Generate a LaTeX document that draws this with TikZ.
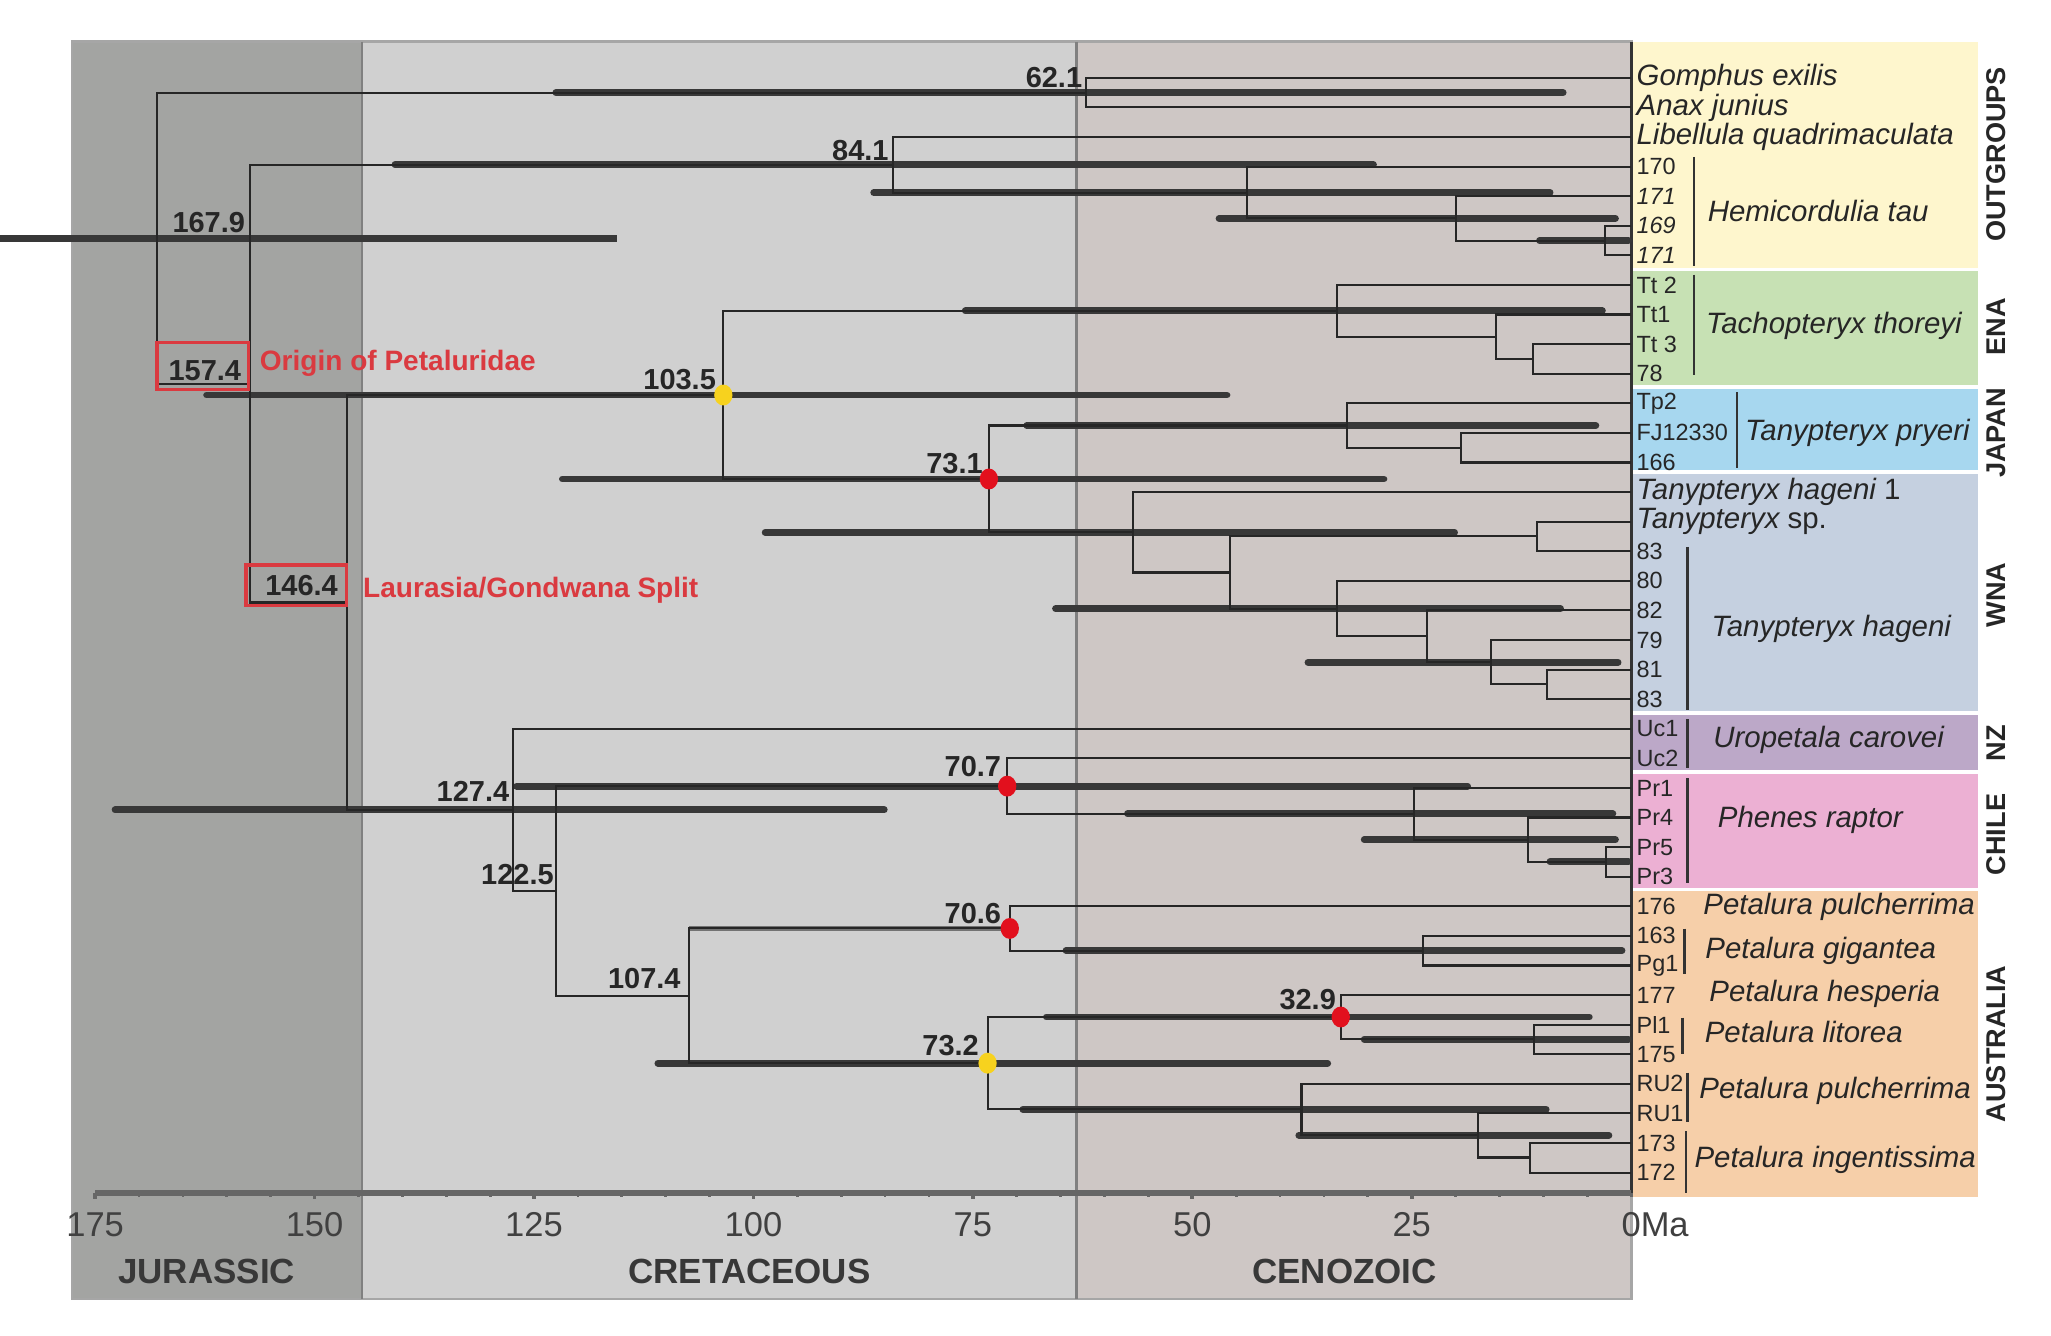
\documentclass[tikz,border=0pt]{standalone}
\usepackage{fontspec}
\setmainfont{Liberation Sans}
\definecolor{jur}{HTML}{A3A4A2}
\definecolor{cre}{HTML}{D0D0D0}
\definecolor{cen}{HTML}{CEC7C5}
\definecolor{cyel}{HTML}{FEF6CD}
\definecolor{cgrn}{HTML}{C7E1B4}
\definecolor{cblu}{HTML}{A7D7EF}
\definecolor{cwna}{HTML}{C5D0E0}
\definecolor{cnz}{HTML}{BCA8C8}
\definecolor{cchl}{HTML}{ECB0D3}
\definecolor{caus}{HTML}{F6CFA9}
\definecolor{redlab}{HTML}{DA3A40}
\definecolor{dotred}{HTML}{E2101D}
\definecolor{dotyel}{HTML}{F7D21E}
\newcommand\clade[3]{\draw[br] (#2) -| (#1) |- (#3);}
\newcommand\hpdbar[3]{\draw[hpd] (#2,0 |- #1) -- (#3,0 |- #1);}
\tikzset{
  br/.style={line width=0.45pt, black!85},
  hpd/.style={line width=1.5pt, black!78, line cap=round},
  lf/.style={font=\fontsize{5.1}{6}\selectfont, anchor=west, inner sep=0, text=black!85},
  lfi/.style={font=\fontsize{6.4}{7}\selectfont\itshape, anchor=west, inner sep=0, text=black!85},
  grp/.style={font=\fontsize{6.4}{7}\selectfont\itshape, inner sep=0, text=black!85},
  age/.style={font=\fontsize{6.3}{7}\selectfont\bfseries, anchor=base east, inner sep=0, text=black!85},
  redlbl/.style={font=\fontsize{6.1}{7}\selectfont\bfseries, anchor=west, inner sep=0, text=redlab},
  redbox/.style={draw=redlab, line width=0.7pt},
  region/.style={font=\fontsize{5.9}{7}\selectfont\bfseries, rotate=90, inner sep=0, text=black!85},
  gbar/.style={line width=0.6pt, black!80},
  axl/.style={font=\fontsize{7.5}{8}\selectfont, inner sep=0, text=black!75},
  per/.style={font=\fontsize{7.6}{8}\selectfont\bfseries, inner sep=0, text=black!78},
}
\begin{document}
\begin{tikzpicture}[x=0.1mm,y=-0.1mm]
\useasboundingbox[fill=white] (0,0) rectangle (1568,1021);
% time panels
\fill[jur] (55,32) rectangle (277,993);
\fill[cre] (277,32) rectangle (823,993);
\fill[cen] (823,32) rectangle (1247,993);
\draw[black!35, line width=0.6pt] (55,32) rectangle (1247,993);
\draw[black!50, line width=0.5pt] (277,32) -- (277,993);
\draw[black!50, line width=0.5pt] (823,32) -- (823,993);
% region boxes
\fill[cyel] (1247,32) rectangle (1512,206);
\fill[cgrn] (1247,206) rectangle (1512,296);
\fill[cblu] (1247,296) rectangle (1512,361);
\fill[cwna] (1247,361) rectangle (1512,545);
\fill[cnz] (1247,545) rectangle (1512,590);
\fill[cchl] (1247,590) rectangle (1512,680);
\fill[caus] (1247,680) rectangle (1512,915);
\foreach \yy in {206,296,361,545,590,680} \draw[white, line width=0.8pt] (1248,\yy) -- (1512,\yy);
\draw[black!80, line width=0.6pt] (1247,32) -- (1247,912);
% leaves
\foreach \i in {1,...,38} \coordinate (L\i) at (1247,{59.5+(\i-1)*22.62});
% internal nodes
\coordinate (nGA) at (830,70.8);
\coordinate (nHE4) at (1227,183.9);
\coordinate (nHE3) at (1113,167.0);
\coordinate (nHE2) at (953,147.2);
\coordinate (nLH) at (683,126.0);
\coordinate (nT3) at (1172,274.4);
\coordinate (nT2) at (1144,257.5);
\coordinate (nT1) at (1022,237.7);
\coordinate (nJ2) at (1117,342.2);
\coordinate (nJ1) at (1030,325.3);
\coordinate (nW6) at (1183,523.2);
\coordinate (nW5) at (1140,506.3);
\coordinate (nW4) at (1091,486.5);
\coordinate (nW3) at (1022,465.3);
\coordinate (nW2) at (1175,410.1);
\coordinate (nW1b) at (940,437.7);
\coordinate (nW1) at (866,407.0);
\coordinate (n731) at (756,366.2);
\coordinate (n1035) at (553,302.0);
\coordinate (nPh3) at (1228,658.9);
\coordinate (nPh2) at (1168,641.9);
\coordinate (nPh1) at (1081,622.2);
\coordinate (n707) at (770,601.0);
\coordinate (nPg) at (1088,726.7);
\coordinate (n706) at (772,709.8);
\coordinate (nPl) at (1173,794.5);
\coordinate (n329) at (1025,777.5);
\coordinate (nI) at (1170,884.9);
\coordinate (nR2) at (1130,867.9);
\coordinate (nR1) at (995,848.1);
\coordinate (n732) at (755,812.8);
\coordinate (n1074) at (527,761.3);
\coordinate (n1225) at (425,681.1);
\coordinate (n1274) at (392,619.2);
\coordinate (n1464) at (265,460.6);
\coordinate (n1574) at (191,293.3);
\coordinate (root) at (120,182.0);
% HPD bars
\draw[hpd, line cap=butt] (0,0 |- root) -- (472,0 |- root);
\hpdbar{nGA}{425}{1195}
\hpdbar{nLH}{302}{1050}
\hpdbar{nHE2}{668}{1185}
\hpdbar{nHE3}{932}{1235}
\hpdbar{nHE4}{1177}{1245}
\hpdbar{n1035}{158}{938}
\hpdbar{nT1}{738}{1225}
\hpdbar{n731}{430}{1058}
\hpdbar{nJ1}{785}{1220}
\hpdbar{nW1}{585}{1112}
\hpdbar{nW3}{807}{1193}
\hpdbar{nW5}{1000}{1237}
\hpdbar{n707}{395}{1122}
\hpdbar{nPh1}{862}{1233}
\hpdbar{nPh2}{1043}{1235}
\hpdbar{nPh3}{1185}{1245}
\hpdbar{nPg}{815}{1240}
\hpdbar{n732}{503}{1015}
\hpdbar{n329}{800}{1215}
\hpdbar{nPl}{1043}{1245}
\hpdbar{nR1}{782}{1182}
\hpdbar{nR2}{993}{1230}
\hpdbar{n1274}{88}{676}
\draw[line width=1pt, black!55] (527,0 |- n706) -- (n706);
% branches
\clade{nGA}{L1}{L2}
\clade{nHE4}{L6}{L7}
\clade{nHE3}{L5}{nHE4}
\clade{nHE2}{L4}{nHE3}
\clade{nLH}{L3}{nHE2}
\clade{nT3}{L10}{L11}
\clade{nT2}{L9}{nT3}
\clade{nT1}{L8}{nT2}
\clade{nJ2}{L13}{L14}
\clade{nJ1}{L12}{nJ2}
\clade{nW6}{L21}{L22}
\clade{nW5}{L20}{nW6}
\clade{nW4}{L19}{nW5}
\clade{nW3}{L18}{nW4}
\clade{nW2}{L16}{L17}
\clade{nW1b}{nW2}{nW3}
\clade{nW1}{L15}{nW1b}
\clade{n731}{nJ1}{nW1}
\clade{n1035}{nT1}{n731}
\clade{nPh3}{L27}{L28}
\clade{nPh2}{L26}{nPh3}
\clade{nPh1}{L25}{nPh2}
\clade{n707}{L24}{nPh1}
\clade{nPg}{L30}{L31}
\clade{n706}{L29}{nPg}
\clade{nPl}{L33}{L34}
\clade{n329}{L32}{nPl}
\clade{nI}{L37}{L38}
\clade{nR2}{L36}{nI}
\clade{nR1}{L35}{nR2}
\clade{n732}{n329}{nR1}
\clade{n1074}{n706}{n732}
\clade{n1225}{n707}{n1074}
\clade{n1274}{L23}{n1225}
\clade{n1464}{n1035}{n1274}
\clade{n1574}{nLH}{n1464}
\clade{root}{nGA}{n1574}
% dots
\fill[dotyel] (n1035) ellipse (0.7mm and 0.8mm);
\fill[dotyel] (n732) ellipse (0.7mm and 0.8mm);
\fill[dotred] (n731) ellipse (0.7mm and 0.8mm);
\fill[dotred] (n707) ellipse (0.7mm and 0.8mm);
\fill[dotred] (n706) ellipse (0.7mm and 0.8mm);
\fill[dotred] (n329) ellipse (0.7mm and 0.8mm);
% age labels
\node[age] (a621) at (828,67) {62.1};
\node[age] (a841) at (680,123) {84.1};
\node[age] (a1679) at (188,178) {167.9};
\node[age] (a1035) at (548,298) {103.5};
\node[age] (a731) at (752,362) {73.1};
\node[age] (a1274) at (390,613) {127.4};
\node[age] (a1225) at (424,676) {122.5};
\node[age] (a1074) at (521,756) {107.4};
\node[age] (a707) at (766,594) {70.7};
\node[age] (a706) at (766,706) {70.6};
\node[age] (a732) at (749,807) {73.2};
\node[age] (a329) at (1022,772) {32.9};
% highlighted splits
\draw[redbox] (120,262) rectangle (190,298);
\node[age] (a1574) at (185,291) {157.4};
\node[redlbl] (origin) at (198,278) {Origin of Petaluridae};
\draw[redbox] (188,432) rectangle (265,463);
\node[age] (a1464) at (259,455) {146.4};
\node[redlbl] (split) at (277,451) {Laurasia/Gondwana Split};
% leaf labels
\node[lfi] (t1) at ([xshift=0.35mm]L1) {Gomphus exilis};
\node[lfi] (t2) at ([xshift=0.35mm]L2) {Anax junius};
\node[lfi] (t3) at ([xshift=0.35mm]L3) {Libellula quadrimaculata};
\node[lf] (t4) at ([xshift=0.35mm]L4) {170};
\node[lf, font=\fontsize{5.1}{6}\selectfont\itshape] (t5) at ([xshift=0.35mm]L5) {171};
\node[lf, font=\fontsize{5.1}{6}\selectfont\itshape] (t6) at ([xshift=0.35mm]L6) {169};
\node[lf, font=\fontsize{5.1}{6}\selectfont\itshape] (t7) at ([xshift=0.35mm]L7) {171};
\node[lf] (t8) at ([xshift=0.35mm]L8) {Tt 2};
\node[lf] (t9) at ([xshift=0.35mm]L9) {Tt1};
\node[lf] (t10) at ([xshift=0.35mm]L10) {Tt 3};
\node[lf] (t11) at ([xshift=0.35mm]L11) {78};
\node[lf] (t12) at ([xshift=0.35mm]L12) {Tp2};
\node[lf] (t13) at ([xshift=0.35mm]L13) {FJ12330};
\node[lf] (t14) at ([xshift=0.35mm]L14) {166};
\node[lfi] (t15) at ([xshift=0.35mm]L15) {Tanypteryx hageni \upshape 1};
\node[lfi] (t16) at ([xshift=0.35mm]L16) {Tanypteryx \upshape sp.};
\node[lf] (t17) at ([xshift=0.35mm]L17) {83};
\node[lf] (t18) at ([xshift=0.35mm]L18) {80};
\node[lf] (t19) at ([xshift=0.35mm]L19) {82};
\node[lf] (t20) at ([xshift=0.35mm]L20) {79};
\node[lf] (t21) at ([xshift=0.35mm]L21) {81};
\node[lf] (t22) at ([xshift=0.35mm]L22) {83};
\node[lf] (t23) at ([xshift=0.35mm]L23) {Uc1};
\node[lf] (t24) at ([xshift=0.35mm]L24) {Uc2};
\node[lf] (t25) at ([xshift=0.35mm]L25) {Pr1};
\node[lf] (t26) at ([xshift=0.35mm]L26) {Pr4};
\node[lf] (t27) at ([xshift=0.35mm]L27) {Pr5};
\node[lf] (t28) at ([xshift=0.35mm]L28) {Pr3};
\node[lf] (t29) at ([xshift=0.35mm]L29) {176};
\node[lf] (t30) at ([xshift=0.35mm]L30) {163};
\node[lf] (t31) at ([xshift=0.35mm]L31) {Pg1};
\node[lf] (t32) at ([xshift=0.35mm]L32) {177};
\node[lf] (t33) at ([xshift=0.35mm]L33) {Pl1};
\node[lf] (t34) at ([xshift=0.35mm]L34) {175};
\node[lf] (t35) at ([xshift=0.35mm]L35) {RU2};
\node[lf] (t36) at ([xshift=0.35mm]L36) {RU1};
\node[lf] (t37) at ([xshift=0.35mm]L37) {173};
\node[lf] (t38) at ([xshift=0.35mm]L38) {172};
% group bars and names
\draw[gbar] (1295,120) -- (1295,203);
\node[grp] (g1) at (1390,161) {Hemicordulia tau};
\draw[gbar] (1295,210) -- (1295,287);
\node[grp] (g2) at (1402,249) {Tachopteryx thoreyi};
\draw[gbar] (1328,300) -- (1328,358);
\node[grp] (g3) at (1420,331) {Tanypteryx pryeri};
\draw[gbar] (1290,418) -- (1290,543);
\node[grp] (g4) at (1400,481) {Tanypteryx hageni};
\draw[gbar] (1290,550) -- (1290,587);
\node[grp] (g5) at (1398,566) {Uropetala carovei};
\draw[gbar] (1290,595) -- (1290,675);
\node[grp] (g6) at (1384,627) {Phenes raptor};
\node[grp] (g7) at (1406,693) {Petalura pulcherrima};
\draw[gbar] (1288,710) -- (1288,745);
\node[grp] (g8) at (1392,727) {Petalura gigantea};
\node[grp] (g9) at (1395,760) {Petalura hesperia};
\draw[gbar] (1286,778) -- (1286,806);
\node[grp] (g10) at (1379,789) {Petalura litorea};
\draw[gbar] (1290,820) -- (1290,858);
\node[grp] (g11) at (1403,834) {Petalura pulcherrima};
\draw[gbar] (1289,865) -- (1289,912);
\node[grp] (g12) at (1403,887) {Petalura ingentissima};
% region labels
\node[region] (r1) at (1526,118) {OUTGROUPS};
\node[region] (r2) at (1526,250) {ENA};
\node[region] (r3) at (1526,331) {JAPAN};
\node[region] (r4) at (1526,455) {WNA};
\node[region] (r5) at (1526,568) {NZ};
\node[region] (r6) at (1526,638) {CHILE};
\node[region] (r7) at (1526,798) {AUSTRALIA};
% axis
\draw[black!60, line width=1.2pt] (73,912) -- (1247,912);
\foreach \t in {0,5,...,175} \draw[black!60, line width=0.6pt] ({1247-6.71*\t},912) -- ({1247-6.71*\t},915);
\foreach \t in {25,50,...,175} \draw[black!60, line width=0.8pt] ({1247-6.71*\t},912) -- ({1247-6.71*\t},917);
\foreach \t in {175,150,125,100,75,50,25} \node[axl] at ({1247-6.71*\t},936) {\t};
\node[axl, anchor=west] (zero) at (1239,936) {0Ma};
\node[per] (p1) at (158,972) {JURASSIC};
\node[per] (p2) at (573,972) {CRETACEOUS};
\node[per] (p3) at (1028,972) {CENOZOIC};
\end{tikzpicture}
\end{document}
